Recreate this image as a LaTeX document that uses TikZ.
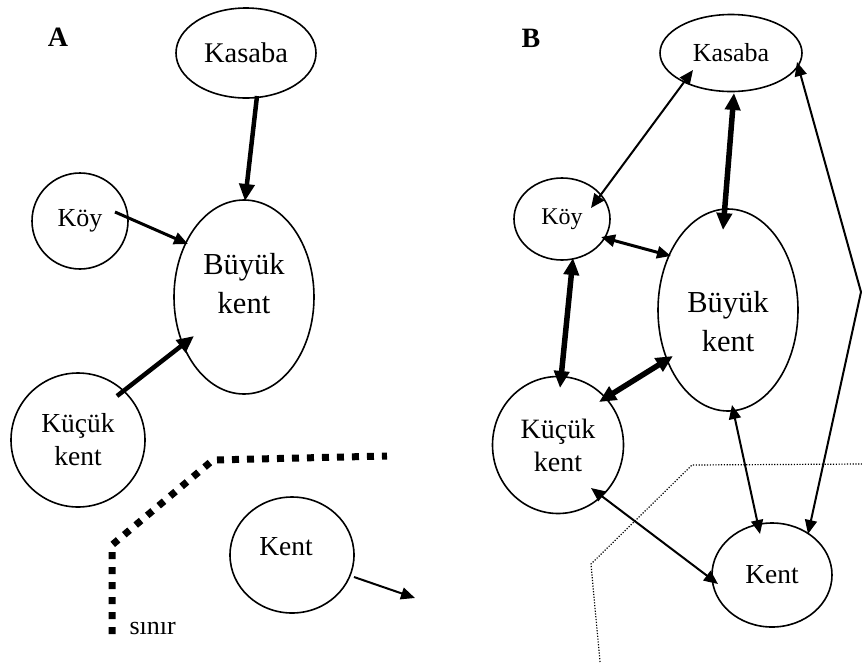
\documentclass[tikz,border=0pt]{standalone}
\usepackage{fontspec}
\setmainfont{Liberation Serif}
\usetikzlibrary{shapes.geometric,arrows.meta,calc}
\begin{document}
\begin{tikzpicture}[x=1pt,y=-1pt,
  place/.style={ellipse, draw, line width=1.6pt, inner sep=0pt, font=\fontsize{27.5}{33}\selectfont, align=center},
  bigtxt/.style={font=\fontsize{30.5}{39}\selectfont, align=center},
  paneltxt/.style={font=\fontsize{28}{30}\selectfont\bfseries},
  tipS/.tip={Triangle[length=14pt,width=12pt]},
  tipL/.tip={Triangle[length=17pt,width=15pt]},
  onethin/.style={line width=2pt, -tipS},
  onemid/.style={line width=3pt, -tipS},
  onethick/.style={line width=4.5pt, -tipL},
  twothin/.style={line width=2pt, tipS-tipS},
  twomid/.style={line width=3pt, tipS-tipS},
  twothick/.style={line width=5.5pt, tipL-tipL},
  border/.style={line width=7pt, dash pattern=on 7pt off 8pt},
  fineborder/.style={line width=1.2pt, dash pattern=on 1.2pt off 1.6pt}
]
\useasboundingbox (0,0) rectangle (862,662);

% ---------------- Panel A ----------------
\node[paneltxt] (labA) at (58,37) {A};
\node[place, minimum width=140pt, minimum height=90pt, font=\fontsize{28.5}{33}\selectfont] (kasA) at (246,53) {Kasaba};
\node[place, minimum width=96pt, minimum height=96pt, font=\fontsize{26}{33}\selectfont] (koyA) at (80,221) {Köy};
\node[place, minimum width=140pt, minimum height=194pt,
      label={[bigtxt, yshift=13pt]center:Büyük\\kent}] (bigA) at (244,297) {};
\node[place, minimum width=134pt, minimum height=134pt] (kucA) at (78,440) {Küçük\\kent};
\node[place, minimum width=124pt, minimum height=116pt,
      label={[font=\fontsize{27.5}{33}\selectfont, xshift=-6pt, yshift=8pt]center:Kent}] (kentA) at (292,555) {};
\coordinate (kentAout) at (415,598);

\draw[onethick] ($(kasA.center)+(11,43)$) -- ($(bigA.center)+(1,-96)$);
\draw[onemid] ($(koyA.center)+(35,-9)$) -- ($(bigA.center)+(-56,-53)$);
\draw[onethick] ($(kucA.center)+(39,-44)$) -- ($(bigA.center)+(-50,39)$);
\draw[onethin] ($(kentA.center)+(62,22)$) -- (kentAout);

\draw[border] (112,634) -- (112,545) -- (213,460) -- (387,456);
\node[font=\fontsize{26}{30}\selectfont, anchor=base west] (sinir) at (126,634) {sınır};

% ---------------- Panel B ----------------
\node[paneltxt] (labB) at (531,38) {B};
\node[place, minimum width=142pt, minimum height=77pt, font=\fontsize{26}{33}\selectfont] (kasB) at (731,53) {Kasaba};
\node[place, minimum width=96pt, minimum height=82pt, font=\fontsize{24}{28}\selectfont] (koyB) at (562,219) {Köy};
\node[place, minimum width=140pt, minimum height=202pt,
      label={[bigtxt, yshift=-12pt]center:Büyük\\kent}] (bigB) at (728,310) {};
\node[place, minimum width=131pt, minimum height=137pt, font=\fontsize{28}{33}\selectfont] (kucB) at (558,445) {Küçük\\kent};
\node[place, minimum width=120pt, minimum height=104pt] (kentB) at (772,575) {Kent};
\coordinate (cornerB) at (861,292);

\draw[fineborder] (600,662) -- (591,564) -- (692,465) -- (862,464);

\draw[twothin] ($(kasB.center)+(-38,17)$) -- ($(koyB.center)+(29,-11)$);
\draw[twothick] ($(kasB.center)+(3,40)$) -- ($(bigB.center)+(-5,-80)$);
\draw[twomid] ($(koyB.center)+(39,18)$) -- ($(bigB.center)+(-57,-54)$);
\draw[twothick] ($(koyB.center)+(11,39)$) -- ($(kucB.center)+(2,-57)$);
\draw[twothick] ($(kucB.center)+(41,-43)$) -- ($(bigB.center)+(-55,46)$);
\draw[twothin] ($(kucB.center)+(33,43)$) -- ($(kentB.center)+(-54,9)$);
\draw[twothin] ($(bigB.center)+(4,95)$) -- ($(kentB.center)+(-12,-41)$);
\draw[twothin] ($(kasB.center)+(66,9)$) -- (cornerB) -- ($(kentB.center)+(36,-41)$);
\end{tikzpicture}
\end{document}
